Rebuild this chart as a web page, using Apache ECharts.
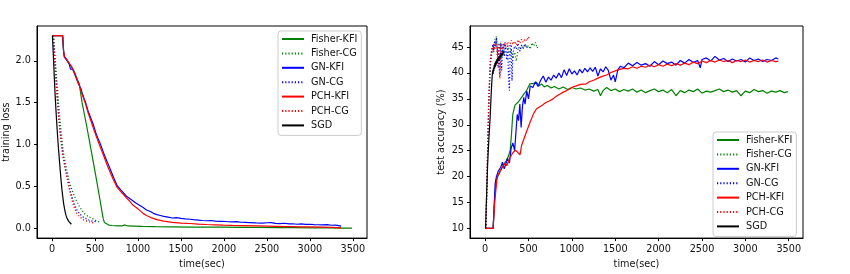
<!DOCTYPE html>
<html>
<head>
<meta charset="utf-8">
<script src="https://cdn.jsdelivr.net/npm/echarts@6/dist/echarts.min.js"></script>
<style>
  html, body { margin: 0; padding: 0; background: #fff; }
  #chart { width: 850px; height: 274px; }
</style>
</head>
<body>
<div id="chart"></div>
<script>
// names, in plotting order
const names = ['Fisher-KFI', 'Fisher-CG', 'GN-KFI', 'GN-CG', 'PCH-KFI', 'PCH-CG', 'SGD'];
const xTicks = [0, 500, 1000, 1500, 2000, 2500, 3000, 3500];
const lossTicks = [0, 0.5, 1.0, 1.5, 2.0];
const accTicks = [10, 15, 20, 25, 30, 35, 40, 45];

// ---- training loss: [time(sec), loss]
const lossFisherKfi = [[8,2.30],[60,2.30],[120,2.30],[135,2.12],[145,2.05],[170,2.01],[200,1.97],[230,1.92],[260,1.87],[290,1.79],[316,1.73],[350,1.50],[400,1.24],[450,0.96],[500,0.68],[550,0.39],[575,0.24],[595,0.12],[610,0.07],[630,0.05],[660,0.04],[700,0.035],[760,0.03],[820,0.032],[850,0.042],[880,0.03],[950,0.028],[1050,0.025],[1200,0.022],[1400,0.02],[1600,0.017],[1800,0.016],[2000,0.015],[2200,0.013],[2400,0.012],[2600,0.01],[2800,0.009],[3000,0.008],[3200,0.006],[3400,0.005],[3490,0.004]];
const lossFisherCg = [[20,2.30],[40,2.0],[60,1.72],[80,1.45],[100,1.22],[120,1.02],[140,0.86],[160,0.76],[180,0.66],[200,0.56],[220,0.50],[240,0.44],[260,0.39],[280,0.34],[300,0.30],[320,0.26],[340,0.23],[360,0.20],[380,0.175],[400,0.16],[425,0.14],[450,0.13],[475,0.115],[500,0.10],[530,0.085],[560,0.075]];
const lossGnKfi = [[8,2.30],[60,2.30],[125,2.30],[135,2.10],[145,2.04],[170,2.01],[200,1.96],[215,1.90],[225,1.88],[240,1.90],[260,1.85],[290,1.77],[310,1.72],[330,1.70],[340,1.66],[350,1.62],[370,1.56],[392,1.50],[420,1.40],[450,1.32],[480,1.24],[510,1.14],[540,1.06],[566,1.00],[600,0.90],[640,0.80],[680,0.70],[720,0.60],[758,0.51],[800,0.46],[835,0.42],[870,0.38],[900,0.36],[940,0.33],[980,0.30],[1028,0.27],[1060,0.25],[1100,0.22],[1150,0.20],[1180,0.18],[1220,0.165],[1260,0.155],[1300,0.145],[1350,0.135],[1400,0.125],[1450,0.13],[1500,0.12],[1550,0.115],[1605,0.11],[1650,0.105],[1700,0.10],[1750,0.095],[1800,0.092],[1850,0.095],[1900,0.088],[1950,0.085],[1990,0.086],[2050,0.08],[2100,0.078],[2150,0.082],[2200,0.074],[2250,0.072],[2300,0.07],[2375,0.066],[2450,0.064],[2500,0.068],[2550,0.07],[2600,0.06],[2650,0.058],[2700,0.062],[2760,0.054],[2800,0.056],[2850,0.05],[2900,0.055],[2950,0.048],[3000,0.05],[3050,0.046],[3100,0.044],[3145,0.042],[3200,0.045],[3250,0.038],[3300,0.04],[3364,0.027]];
const lossGnCg = [[15,2.30],[35,1.95],[55,1.65],[75,1.38],[95,1.15],[115,0.97],[135,0.83],[155,0.72],[175,0.62],[195,0.53],[215,0.44],[235,0.37],[255,0.30],[275,0.25],[295,0.21],[320,0.18],[345,0.15],[370,0.13],[400,0.115],[430,0.10],[460,0.09],[490,0.085],[520,0.08]];
const lossPchKfi = [[8,2.30],[60,2.30],[125,2.30],[135,2.11],[145,2.05],[170,2.02],[200,1.97],[230,1.93],[260,1.86],[290,1.78],[320,1.70],[350,1.60],[392,1.48],[420,1.38],[450,1.29],[480,1.20],[510,1.11],[540,1.03],[566,0.96],[600,0.87],[640,0.76],[680,0.66],[720,0.57],[758,0.49],[800,0.44],[835,0.40],[870,0.36],[900,0.33],[940,0.28],[980,0.25],[1028,0.21],[1060,0.18],[1100,0.155],[1150,0.13],[1220,0.105],[1300,0.088],[1400,0.072],[1500,0.064],[1605,0.059],[1700,0.052],[1800,0.047],[1900,0.043],[1990,0.039],[2100,0.036],[2200,0.034],[2375,0.031],[2500,0.028],[2600,0.026],[2760,0.023],[2900,0.02],[3000,0.018],[3145,0.015],[3250,0.012],[3364,0.007]];
const lossPchCg = [[15,2.30],[35,1.93],[55,1.62],[75,1.35],[95,1.13],[115,0.95],[135,0.81],[155,0.70],[175,0.60],[195,0.50],[215,0.41],[235,0.33],[255,0.26],[275,0.21],[295,0.17],[320,0.14],[345,0.12],[370,0.10],[400,0.09],[430,0.08],[460,0.07],[490,0.065]];
const lossSgd = [[5,2.30],[15,2.08],[25,1.84],[35,1.62],[45,1.43],[55,1.26],[65,1.10],[75,0.96],[85,0.83],[95,0.70],[105,0.58],[115,0.47],[125,0.38],[135,0.30],[145,0.24],[155,0.19],[165,0.15],[175,0.12],[185,0.10],[195,0.085],[205,0.07],[215,0.065],[225,0.05],[230,0.055]];

// ---- test accuracy (%): [time(sec), accuracy]
const accFisherKfi = [[0,10],[92,10],[110,16],[130,19.5],[160,20.5],[200,22],[240,23],[270,24],[290,25.2],[305,28.5],[318,31.9],[344,33.8],[382,34.4],[420,35.3],[450,36],[478,36.6],[516,37.9],[560,38],[593,38.2],[620,37.5],[650,37.9],[680,37.3],[720,37.6],[760,37.1],[800,37.4],[850,36.9],[900,37.3],[950,36.8],[1000,37.2],[1050,36.9],[1100,37.1],[1150,36.7],[1200,36.9],[1250,36.5],[1300,36.8],[1330,35.6],[1360,36.6],[1400,37.2],[1450,36.6],[1500,36.9],[1550,36.4],[1600,36.8],[1650,36.5],[1700,36.9],[1750,36.3],[1800,36.7],[1850,36.2],[1900,36.6],[1950,36.9],[2000,36.4],[2050,36.7],[2100,36.2],[2150,36.8],[2200,35.6],[2250,36.6],[2300,36.2],[2350,36.7],[2400,36.4],[2450,36.9],[2500,36.1],[2550,36.5],[2600,36.3],[2650,36.6],[2700,36.9],[2750,36.4],[2800,36.7],[2850,36.3],[2900,36.6],[2950,35.6],[3000,36.5],[3050,36.2],[3100,36.8],[3150,36.4],[3200,36.6],[3250,36.1],[3300,36.5],[3350,36.3],[3400,36.6],[3450,36.2],[3490,36.4]];
const accFisherCg = [[10,10],[20,17],[30,25],[40,32],[50,37],[60,41],[70,43],[80,44],[90,45.2],[100,44.6],[110,46.5],[120,45.5],[130,47.1],[140,45],[150,43],[160,45.8],[170,44.5],[180,46],[200,44],[220,45.5],[240,44.8],[260,45.3],[280,43.5],[300,44.5],[320,42.8],[340,44],[360,42.3],[380,44.6],[400,44.2],[420,45.3],[440,44.7],[460,45.5],[480,44.9],[500,45.3],[520,44.6],[540,45.8],[560,45.2],[580,45.9],[600,44.8],[615,45.4]];
const accGnKfi = [[0,10],[92,10],[105,14.5],[115,18.6],[130,20],[150,21],[180,21.8],[200,22.8],[220,21.5],[240,22.5],[260,23.5],[280,22.6],[300,25.5],[320,26.5],[340,25],[355,28.5],[370,32],[385,30.8],[400,34],[415,29.5],[430,33.5],[445,35.3],[460,34],[480,36.5],[500,35],[520,37.5],[550,37.2],[580,38.3],[610,37.4],[640,38.6],[670,39.4],[700,38.2],[730,39.2],[760,38.6],[790,39.6],[820,39],[850,40],[880,39.1],[910,40.6],[940,39.5],[970,40.8],[1000,39.8],[1030,40.4],[1060,39.6],[1090,40.7],[1120,40],[1150,40.9],[1180,40.2],[1210,41],[1240,40.3],[1270,41.1],[1300,39.4],[1330,40.8],[1360,40.2],[1390,41.2],[1420,40.5],[1450,38.6],[1480,39.6],[1500,38.3],[1530,40.6],[1560,41.3],[1600,41],[1650,41.9],[1700,41.4],[1750,42],[1800,41.5],[1850,41.8],[1900,41.3],[1950,42.2],[2000,41.6],[2050,42.3],[2100,41.8],[2150,42.1],[2200,41.5],[2250,42.4],[2300,41.9],[2350,42.6],[2400,42],[2450,42.4],[2480,41.0],[2500,42.6],[2550,42.9],[2600,42.3],[2650,43.2],[2700,42.5],[2750,42.8],[2800,42.2],[2850,42.7],[2900,42.3],[2950,42.6],[3000,42.1],[3050,42.9],[3100,42.4],[3150,42.7],[3200,42.2],[3250,42.6],[3300,42.4],[3350,42.9],[3380,42.7]];
const accGnCg = [[8,10],[20,18],[30,26],[40,33],[50,38],[60,42],[70,43.5],[80,44.8],[90,45.5],[100,44],[110,46.2],[120,45],[130,46.8],[140,44.5],[150,41],[160,45.5],[170,39.4],[180,45.8],[190,40.5],[200,44.6],[210,45.8],[220,43.2],[230,45.9],[240,44],[250,42.5],[260,45.2],[270,39],[280,36.6],[290,44.8],[300,45.5],[310,38.5],[320,43.8],[340,45.2],[360,44.6],[380,45.7],[400,44.2],[420,45.4],[440,44.8],[460,45.6],[480,44.9],[495,45.2]];
const accPchKfi = [[0,10],[92,10],[110,15],[130,18.5],[141,20],[170,21],[200,21.8],[230,22.6],[249,22.1],[270,23],[287,23.7],[320,24.6],[350,25.1],[380,24.6],[402,24.2],[420,26],[450,27.4],[478,28.7],[520,30.6],[560,32.2],[593,33.1],[630,33.5],[670,33.9],[700,34.3],[740,34.6],[784,35],[820,35.5],[860,35.9],[900,36.3],[940,36.6],[975,36.9],[1010,37.3],[1050,37.5],[1100,37.8],[1167,37.9],[1200,38.3],[1250,38.6],[1300,39],[1358,39.4],[1400,39.6],[1450,40.1],[1500,40.4],[1549,40.7],[1600,40.9],[1650,40.8],[1700,41.2],[1750,40.9],[1800,41.3],[1850,41.1],[1900,41.5],[1950,41.2],[2000,41.6],[2050,41.3],[2100,41.7],[2150,41.4],[2200,41.8],[2250,41.5],[2300,41.9],[2350,41.6],[2400,42.1],[2450,41.8],[2505,42.3],[2550,42],[2600,42.4],[2650,42.1],[2700,42.5],[2750,42.2],[2800,42.4],[2850,42],[2900,42.4],[2950,42.2],[3000,42.5],[3050,42.1],[3100,42.4],[3150,42.2],[3200,42.5],[3250,42.1],[3300,42.4],[3350,42.2],[3380,42.3]];
const accPchCg = [[8,10],[20,19],[30,27],[40,34],[50,39],[60,42.5],[70,44],[80,45],[90,44.2],[100,45.8],[110,44.5],[120,46],[130,45.2],[140,43],[150,45.5],[160,41],[170,38.9],[180,44.8],[190,45.6],[200,44.5],[220,45.8],[240,45],[260,46],[280,45.2],[300,46.3],[320,45.5],[340,46.1],[360,45.4],[380,46.4],[400,45.7],[420,46.5],[440,45.9],[460,46.6],[480,46.2],[500,47],[510,46.4]];
const accSgd = [[5,10],[12,14],[20,18],[28,22],[36,25],[44,27.5],[52,29.8],[58,31.5],[64,33.8],[70,36],[76,38],[82,39.5],[88,40.5],[92,39.8],[96,41],[100,40.4],[104,41.5],[108,40.8],[112,41.9],[116,41.1],[120,42.2],[124,41.4],[128,42.4],[132,41.7],[136,42.7],[140,41.9],[144,42.9],[148,42.2],[152,43],[156,42.3],[160,43.2],[164,42.6],[168,43.4],[172,42.8],[176,43.6],[180,43],[184,43.7],[188,43.2],[192,43.9],[196,43.3],[200,44],[204,43.5],[208,44.2],[212,43.8]];

const colors = ['#008000', '#008000', '#0000ff', '#0000ff', '#ff0000', '#ff0000', '#000000'];
const dotted = [false, true, false, true, false, true, false];
const lossData = [lossFisherKfi, lossFisherCg, lossGnKfi, lossGnCg, lossPchKfi, lossPchCg, lossSgd];
const accData = [accFisherKfi, accFisherCg, accGnKfi, accGnCg, accPchKfi, accPchCg, accSgd];

const font = 'DejaVu Sans';
const fs = 9.7;

function xAx(gi) {
  return {
    type: 'value', gridIndex: gi, min: -174.5, max: 3664.5,
    name: 'time(sec)', nameLocation: 'middle', nameGap: 19,
    nameTextStyle: { fontFamily: font, fontSize: fs, color: '#111' },
    axisLine: { show: true, onZero: false, lineStyle: { color: '#000', width: 1 } },
    axisTick: { show: true, length: 3, lineStyle: { color: '#000' }, customValues: xTicks },
    axisLabel: { fontFamily: font, fontSize: fs, color: '#111', margin: 6, customValues: xTicks, formatter: v => String(v) },
    splitLine: { show: false }
  };
}
function yAx(gi, min, max, ticks, name, gap, fmt) {
  return {
    type: 'value', gridIndex: gi, min, max,
    name, nameLocation: 'middle', nameGap: gap,
    nameTextStyle: { fontFamily: font, fontSize: fs, color: '#111' },
    axisLine: { show: true, onZero: false, lineStyle: { color: '#000', width: 1 } },
    axisTick: { show: true, length: 3, lineStyle: { color: '#000' }, customValues: ticks },
    axisLabel: { fontFamily: font, fontSize: fs, color: '#111', margin: 6, customValues: ticks, formatter: fmt },
    splitLine: { show: false }
  };
}
function legend(left, top) {
  return {
    orient: 'vertical', left, top, data: names,
    itemWidth: 22, itemHeight: 10, itemGap: 4.4,
    padding: [3, 4, 5, 3],
    backgroundColor: 'rgba(255,255,255,0.8)',
    borderColor: '#ccc', borderWidth: 1, borderRadius: 3,
    itemStyle: { color: 'transparent', borderColor: 'transparent', borderWidth: 0, opacity: 0 },
    textStyle: { fontFamily: font, fontSize: fs, color: '#111', padding: [0, 0, 0, 2] }
  };
}

const series = [];
[lossData, accData].forEach((set, gi) => {
  set.forEach((data, i) => {
    series.push({
      name: names[i], type: 'line', xAxisIndex: gi, yAxisIndex: gi,
      data, symbol: 'none', showSymbol: false, z: 2 + i,
      itemStyle: { color: colors[i] },
      lineStyle: { color: colors[i], width: 1.2, type: dotted[i] ? [1.2, 2] : 'solid' }
    });
  });
});

const chart = echarts.init(document.getElementById('chart'), null, { renderer: 'canvas' });
chart.setOption({
  animation: false,
  backgroundColor: '#fff',
  grid: [
    { left: 36, top: 26, width: 331, height: 216, show: true, borderColor: '#000', borderWidth: 1, backgroundColor: 'transparent' },
    { left: 470, top: 26, width: 333, height: 216, show: true, borderColor: '#000', borderWidth: 1, backgroundColor: 'transparent' }
  ],
  xAxis: [xAx(0), xAx(1)],
  yAxis: [
    yAx(0, -0.115, 2.415, lossTicks, 'training loss', 26, v => v.toFixed(1)),
    yAx(1, 8.14, 49.06, accTicks, 'test accuracy (%)', 24, v => String(v))
  ],
  legend: [legend(278, 31), legend(713, 132)],
  series
});
</script>
</body>
</html>
